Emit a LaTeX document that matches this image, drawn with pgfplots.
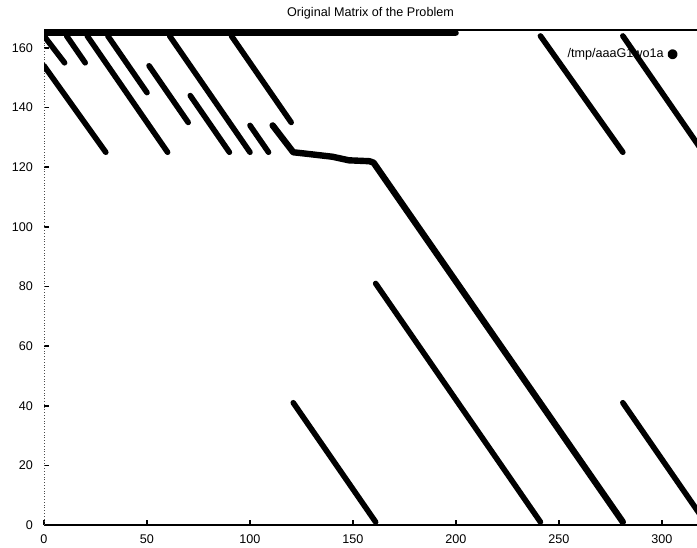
\documentclass[border=0pt]{standalone}
\usepackage{fontspec}
\setmainfont{Liberation Sans}
\usepackage{pgfplots}
\pgfplotsset{compat=1.18}
\newcommand{\sfont}{\fontsize{6.3}{7.5}\selectfont}
\begin{document}
\begin{tikzpicture}
\begin{axis}[
    scale only axis,
    width=326.5pt, height=247.5pt,
    xmin=0, xmax=317, ymin=0, ymax=166,
    axis x line=box, axis y line=left,
    y axis line style={-, densely dotted, black!70},
    x axis line style={-, black, line width=0.6pt},
    xtick={0,50,...,300}, ytick={0,20,...,160},
    xtick pos=lower,
    tick align=inside, major tick length=2.5pt,
    tick style={black, line width=0.8pt},
    /pgf/number format/assume math mode=true,
    ticklabel style={font=\sfont},
    xticklabel style={yshift=-1.5pt},
    yticklabel style={xshift=-2pt},
    title={Original Matrix of the Problem},
    title style={font=\sfont, at={(0.5,1)}, anchor=base, yshift=0.5pt, inner sep=0pt},
    legend style={draw=none, fill=none, font=\sfont, at={(0.98,0.951)}, anchor=east},
    legend plot pos=right,
    legend image code/.code={\fill (0.85cm,0cm) circle (1.1pt);},
    unbounded coords=jump,
    clip=true,
]
% diagonal bands of non-zeros (row index against column index)
\addplot[black, line width=2.8pt, line cap=round, line join=round] coordinates {
    (0,165) (200,165) (nan,nan)
    (0,164) (10,155) (nan,nan)
    (11,164) (20,155) (nan,nan)
    (21,164) (60,125) (nan,nan)
    (31,164) (50,145) (nan,nan)
    (0,154) (30,125) (nan,nan)
    (51,154) (70,135) (nan,nan)
    (61,164) (100,125) (nan,nan)
    (71,144) (90,125) (nan,nan)
    (100,134) (109,125) (nan,nan)
    (91,164) (120,135) (nan,nan)
    (121,41) (161,1) (nan,nan)
    (161,81) (241,1) (nan,nan)
    (241,164) (281,125) (nan,nan)
    (281,164) (320,125) (nan,nan)
    (281,41) (320,2)
};
\addlegendentry{/tmp/aaaG1wo1a\hspace{6.5pt}}
\addplot[black, line width=3.2pt, line cap=round, line join=round, forget plot] coordinates {
    (111,134) (121,125) (130,124.3) (140,123.5) (148,122.3) (158,122) (160,121.5) (281,1)
};
\end{axis}
\pgfresetboundingbox
\path[use as bounding box] ([xshift=-22pt,yshift=-11pt]current axis.south west) rectangle ([yshift=15pt]current axis.north east);
\end{tikzpicture}
\end{document}
